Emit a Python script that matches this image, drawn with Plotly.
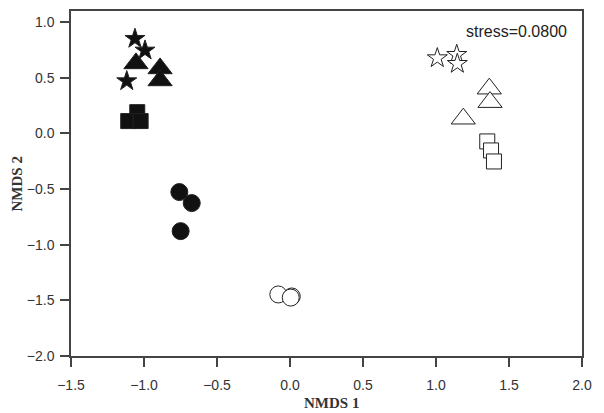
import plotly.graph_objects as go

# Data (NMDS coordinates)
star_f_x = [-1.062, -0.993, -1.118]
star_f_y = [0.851, 0.746, 0.470]
tri_f_x = [-1.055, -0.890, -0.890]
tri_f_y = [0.629, 0.584, 0.476]
sq_f_x = [-1.046, -1.108, -1.023]
sq_f_y = [0.191, 0.111, 0.111]
circ_f_x = [-0.758, -0.673, -0.749]
circ_f_y = [-0.527, -0.626, -0.878]

star_o_x = [1.009, 1.142, 1.146]
star_o_y = [0.677, 0.707, 0.626]
tri_o_x = [1.365, 1.370, 1.187]
tri_o_y = [0.402, 0.281, 0.132]
sq_o_x = [1.351, 1.377, 1.397]
sq_o_y = [-0.072, -0.153, -0.252]
circ_o_x = [-0.080, 0.012, 0.005]
circ_o_y = [-1.447, -1.465, -1.475]

x_ticks = [-1.5, -1.0, -0.5, 0.0, 0.5, 1.0, 1.5, 2.0]
y_ticks = [-2.0, -1.5, -1.0, -0.5, 0.0, 0.5, 1.0]
stress_label = "stress=0.0800"
x_title = "NMDS 1"
y_title = "NMDS 2"

fig = go.Figure()

def add(xs, ys, symbol, size, filled):
    fig.add_trace(go.Scatter(
        x=xs, y=ys, mode="markers",
        marker=dict(symbol=symbol, size=size,
                    color="#111111" if filled else "white",
                    line=dict(color="#222222", width=1)),
        showlegend=False, cliponaxis=False))

add(star_f_x, star_f_y, "star", 15, True)
add(tri_f_x, tri_f_y, "triangle-up", 21, True)
add(sq_f_x, sq_f_y, "square", 15, True)
add(circ_f_x, circ_f_y, "circle", 17, True)
add(star_o_x, star_o_y, "star", 15, False)
add(tri_o_x, tri_o_y, "triangle-up", 21, False)
add(sq_o_x, sq_o_y, "square", 15, False)
add(circ_o_x, circ_o_y, "circle", 17, False)

axis_common = dict(
    showgrid=False, zeroline=False, showline=True, linecolor="#444444",
    linewidth=1.5, mirror=True, ticks="outside", ticklen=9, tickwidth=1.5,
    tickcolor="#444444", tickformat=".1f", automargin=False,
    tickfont=dict(family="Liberation Sans, Arial", size=14, color="#333333"),
)

title_font = dict(family="Liberation Serif, Times New Roman", size=15, color="#333333")

fig.update_layout(
    width=604, height=413,
    margin=dict(l=71, r=22, t=11, b=57),
    paper_bgcolor="white", plot_bgcolor="white",
    xaxis=dict(range=[-1.5, 2.0], tickvals=x_ticks, ticklabelstandoff=6, **axis_common),
    yaxis=dict(range=[-2.0, 1.1], tickvals=y_ticks, ticklabelstandoff=3, **axis_common),
    annotations=[
        dict(x=1.911, y=0.916, xref="x", yref="y", text=stress_label,
             showarrow=False, xanchor="right", yanchor="middle",
             font=dict(family="Liberation Sans, Arial", size=16, color="#222222")),
        dict(x=0.509, y=-0.136, xref="paper", yref="paper", text="<b>" + x_title + "</b>",
             showarrow=False, xanchor="center", yanchor="middle", font=title_font),
        dict(x=-0.1057, y=0.5, xref="paper", yref="paper", text="<b>" + y_title + "</b>",
             textangle=-90, showarrow=False, xanchor="center", yanchor="middle", font=title_font),
    ],
)

fig.write_html("out.html")
